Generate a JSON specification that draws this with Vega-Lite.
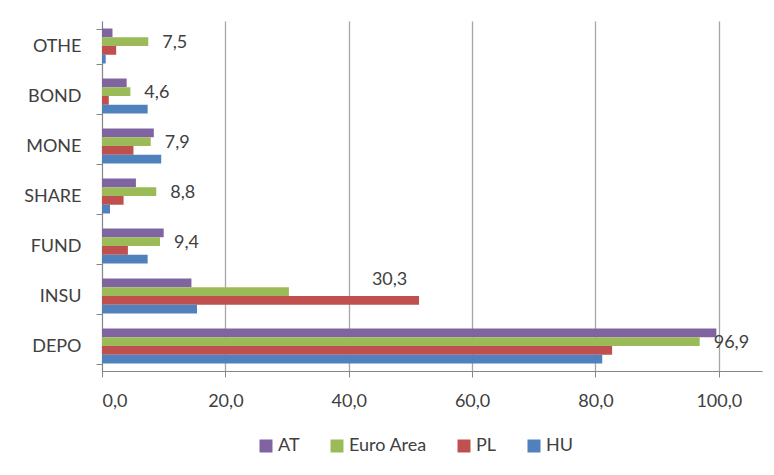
{
  "$schema": "https://vega.github.io/schema/vega-lite/v6.json",
  "autosize": "none",
  "width": 660,
  "height": 350,
  "padding": {"left": 102, "top": 21, "right": 12, "bottom": 104},
  "background": "white",
  "config": {
    "font": "Lato",
    "view": {"stroke": null},
    "locale": {"number": {"decimal": ",", "thousands": ".", "grouping": [3], "currency": ["", " €"]}}
  },
  "data": {
    "values": [
      {"category": "DEPO", "series": "AT", "value": 99.6},
      {"category": "DEPO", "series": "Euro Area", "value": 96.9},
      {"category": "DEPO", "series": "PL", "value": 82.7},
      {"category": "DEPO", "series": "HU", "value": 81.1},
      {"category": "INSU", "series": "AT", "value": 14.5},
      {"category": "INSU", "series": "Euro Area", "value": 30.3},
      {"category": "INSU", "series": "PL", "value": 51.4},
      {"category": "INSU", "series": "HU", "value": 15.4},
      {"category": "FUND", "series": "AT", "value": 10.0},
      {"category": "FUND", "series": "Euro Area", "value": 9.4},
      {"category": "FUND", "series": "PL", "value": 4.2},
      {"category": "FUND", "series": "HU", "value": 7.4},
      {"category": "SHARE", "series": "AT", "value": 5.5},
      {"category": "SHARE", "series": "Euro Area", "value": 8.8},
      {"category": "SHARE", "series": "PL", "value": 3.5},
      {"category": "SHARE", "series": "HU", "value": 1.3},
      {"category": "MONE", "series": "AT", "value": 8.4},
      {"category": "MONE", "series": "Euro Area", "value": 7.9},
      {"category": "MONE", "series": "PL", "value": 5.1},
      {"category": "MONE", "series": "HU", "value": 9.6},
      {"category": "BOND", "series": "AT", "value": 4.0},
      {"category": "BOND", "series": "Euro Area", "value": 4.6},
      {"category": "BOND", "series": "PL", "value": 1.1},
      {"category": "BOND", "series": "HU", "value": 7.4},
      {"category": "OTHE", "series": "AT", "value": 1.7},
      {"category": "OTHE", "series": "Euro Area", "value": 7.5},
      {"category": "OTHE", "series": "PL", "value": 2.3},
      {"category": "OTHE", "series": "HU", "value": 0.6}
    ]
  },
  "encoding": {
    "y": {
      "field": "category",
      "type": "nominal",
      "sort": ["OTHE", "BOND", "MONE", "SHARE", "FUND", "INSU", "DEPO"],
      "scale": {"paddingInner": 0.3, "paddingOuter": 0.15},
      "axis": {
        "title": null,
        "tickBand": "extent",
        "tickSize": 6,
        "tickColor": "#868686",
        "domainColor": "#868686",
        "labelFontSize": 18,
        "labelColor": "#404040",
        "labelPadding": 15,
        "grid": false
      }
    },
    "yOffset": {
      "field": "series",
      "type": "nominal",
      "sort": ["AT", "Euro Area", "PL", "HU"],
      "scale": {"paddingInner": 0, "paddingOuter": 0}
    },
    "x": {
      "field": "value",
      "type": "quantitative",
      "scale": {"domain": [0, 107], "nice": false, "zero": true},
      "axis": {
        "title": null,
        "values": [0, 20, 40, 60, 80, 100],
        "format": ".1f",
        "grid": true,
        "gridColor": "#a6a6a6",
        "gridWidth": 1.3,
        "tickSize": 6,
        "tickColor": "#868686",
        "domainColor": "#868686",
        "labelFontSize": 18,
        "labelColor": "#404040",
        "labelPadding": 15
      }
    }
  },
  "layer": [
    {
      "mark": {"type": "bar"},
      "encoding": {
        "color": {
          "field": "series",
          "type": "nominal",
          "sort": ["AT", "Euro Area", "PL", "HU"],
          "scale": {"domain": ["AT", "Euro Area", "PL", "HU"], "range": ["#8064A2", "#9BBB59", "#C0504D", "#4F81BD"]},
          "legend": {
            "title": null,
            "orient": "none",
            "direction": "horizontal",
            "columns": 4,
            "legendX": 155,
            "legendY": 416,
            "symbolType": "square",
            "symbolSize": 169,
            "symbolStrokeWidth": 0,
            "labelFontSize": 18,
            "labelColor": "#404040",
            "labelOffset": 3,
            "columnPadding": 28,
            "encode": {"symbols": {"update": {"size": {"value": 169}, "shape": {"value": "square"}, "strokeWidth": {"value": 0}}}}
          }
        }
      }
    },
    {
      "transform": [{"filter": "datum.series === 'Euro Area' && datum.category !== 'INSU'"}],
      "mark": {"type": "text", "align": "left", "baseline": "middle", "dx": 14, "dy": 1.5, "fontSize": 18, "color": "#404040"},
      "encoding": {"text": {"field": "value", "type": "quantitative", "format": ".1f"}}
    },
    {
      "transform": [{"filter": "datum.series === 'Euro Area' && datum.category === 'INSU'"}],
      "mark": {"type": "text", "align": "left", "baseline": "middle", "dx": 83, "dy": -12, "fontSize": 18, "color": "#404040"},
      "encoding": {"text": {"field": "value", "type": "quantitative", "format": ".1f"}}
    }
  ]
}
